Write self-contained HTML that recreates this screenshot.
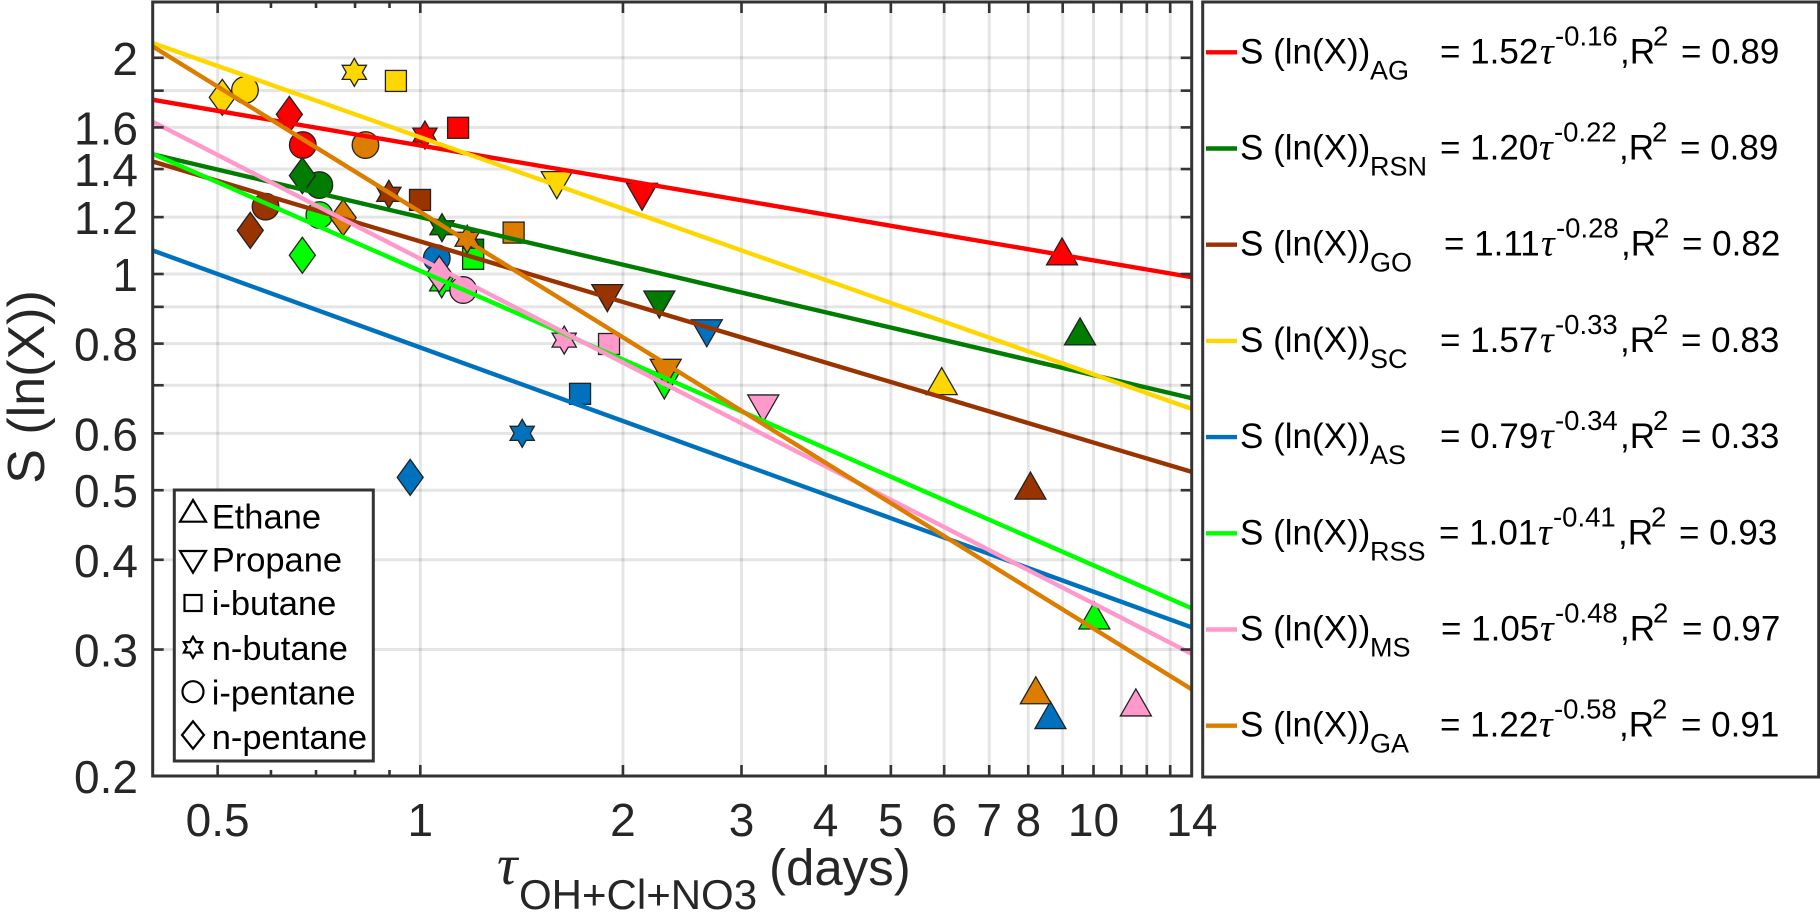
<!DOCTYPE html>
<html lang="en">
<head>
<meta charset="utf-8">
<title>S (ln(X)) versus lifetime</title>
<style>
  html, body { margin: 0; padding: 0; background: #fff; }
  body { width: 1820px; height: 912px; overflow: hidden; }
  svg { display: block; font-family: "Liberation Sans", Arial, sans-serif; }
  .tick-label { font-size: 46px; fill: #262626; }
  .axis-title { font-size: 51px; fill: #262626; }
  .tau { font-family: "Liberation Serif", serif; font-style: italic; }
  .key-text { font-size: 34.5px; fill: #000; }
  .eq { font-size: 35px; fill: #000; }
  .eq-sub { font-size: 27px; fill: #000; }
  .eq-sup { font-size: 27.5px; fill: #000; }
  .eq-tau { font-family: "Liberation Serif", serif; font-style: italic; font-size: 38px; fill: #000; }
  .key-mark { fill: none; stroke: #000; stroke-width: 2.2; }
  .leg-line { stroke-width: 4.4; fill: none; }
</style>
</head>
<body>
<svg id="chart" xmlns="http://www.w3.org/2000/svg" width="1820" height="912" viewBox="0 0 1820 912">
  <rect x="0" y="0" width="1820" height="912" fill="#fff"/>
  <defs>
    <clipPath id="plot-clip"><rect x="152.7" y="2" width="1039" height="774"/></clipPath>
  </defs>
  <g id="grid"></g>
  <g id="markers"></g>
  <g id="fits" clip-path="url(#plot-clip)"></g>
  <rect x="152.7" y="2" width="1039" height="774" fill="none" stroke="#333" stroke-width="3"/>
  <g id="ticks"></g>

  <text class="axis-title" style="font-size:52px" transform="translate(44,387) rotate(-90)" text-anchor="middle">S (ln(X))</text>
  <g>
    <text class="axis-title tau" x="497" y="884" style="font-size:57px">τ</text>
    <text class="axis-title" x="519" y="909" style="font-size:42px">OH+Cl+NO3</text>
    <text class="axis-title" x="769" y="885">(days)</text>
  </g>

  <!-- hydrocarbon marker key -->
  <g>
    <rect x="174.3" y="490" width="199" height="271" fill="#fff" stroke="#333" stroke-width="3"/>
    <g>
      <path class="key-mark" d="M193 500 L206 521.7 L180 521.7 Z"/>
      <text class="key-text" x="211.7" y="528.3">Ethane</text>
    </g>
    <g>
      <path class="key-mark" d="M180 551 L206 551 L193 572.7 Z"/>
      <text class="key-text" x="211.7" y="571.7">Propane</text>
    </g>
    <g>
      <rect class="key-mark" x="184.5" y="595" width="17" height="16"/>
      <text class="key-text" x="211.7" y="615">i-butane</text>
    </g>
    <g>
      <path class="key-mark" d="M193 636.8 L196 642.1 L202.1 642.1 L199.1 647.3 L202.1 652.5 L196 652.5 L193 657.8 L190 652.5 L183.9 652.5 L186.9 647.3 L183.9 642.1 L190 642.1 Z"/>
      <text class="key-text" x="211.7" y="660">n-butane</text>
    </g>
    <g>
      <circle class="key-mark" cx="193" cy="691.7" r="10.5"/>
      <text class="key-text" x="211.7" y="704.5">i-pentane</text>
    </g>
    <g>
      <path class="key-mark" d="M193 721.3 L204 735 L193 748.7 L182 735 Z"/>
      <text class="key-text" x="211.7" y="749">n-pentane</text>
    </g>
  </g>

  <!-- equation legend panel -->
  <g>
    <rect x="1202.7" y="2" width="616" height="775" fill="#fff" stroke="#333" stroke-width="3"/>

    <g transform="translate(0,52.3)">
      <line class="leg-line" x1="1206" x2="1237" y1="0" y2="0" stroke="#ff0000"/>
      <text class="eq" x="1240" y="11">S (ln(X))</text><text class="eq-sub" x="1370" y="27">AG</text>
      <text class="eq" x="1440" y="11">= 1.52</text><text class="eq-tau" x="1540" y="11">τ</text>
      <text class="eq-sup" x="1555" y="-7">-0.16</text><text class="eq" x="1620" y="11">,R</text>
      <text class="eq-sup" x="1653" y="-7">2</text><text class="eq" x="1681" y="11">= 0.89</text>
    </g>
    <g transform="translate(0,148.5)">
      <line class="leg-line" x1="1206" x2="1237" y1="0" y2="0" stroke="#007c00"/>
      <text class="eq" x="1240" y="11">S (ln(X))</text><text class="eq-sub" x="1370" y="27">RSN</text>
      <text class="eq" x="1440" y="11">= 1.20</text><text class="eq-tau" x="1539" y="11">τ</text>
      <text class="eq-sup" x="1554" y="-7">-0.22</text><text class="eq" x="1619" y="11">,R</text>
      <text class="eq-sup" x="1652" y="-7">2</text><text class="eq" x="1680" y="11">= 0.89</text>
    </g>
    <g transform="translate(0,244.7)">
      <line class="leg-line" x1="1206" x2="1237" y1="0" y2="0" stroke="#993300"/>
      <text class="eq" x="1240" y="11">S (ln(X))</text><text class="eq-sub" x="1370" y="27">GO</text>
      <text class="eq" x="1444" y="11">= 1.11</text><text class="eq-tau" x="1541" y="11">τ</text>
      <text class="eq-sup" x="1556" y="-7">-0.28</text><text class="eq" x="1621" y="11">,R</text>
      <text class="eq-sup" x="1654" y="-7">2</text><text class="eq" x="1682" y="11">= 0.82</text>
    </g>
    <g transform="translate(0,340.9)">
      <line class="leg-line" x1="1206" x2="1237" y1="0" y2="0" stroke="#ffd700"/>
      <text class="eq" x="1240" y="11">S (ln(X))</text><text class="eq-sub" x="1370" y="27">SC</text>
      <text class="eq" x="1440" y="11">= 1.57</text><text class="eq-tau" x="1540" y="11">τ</text>
      <text class="eq-sup" x="1555" y="-7">-0.33</text><text class="eq" x="1620" y="11">,R</text>
      <text class="eq-sup" x="1653" y="-7">2</text><text class="eq" x="1681" y="11">= 0.83</text>
    </g>
    <g transform="translate(0,437.1)">
      <line class="leg-line" x1="1206" x2="1237" y1="0" y2="0" stroke="#0072bd"/>
      <text class="eq" x="1240" y="11">S (ln(X))</text><text class="eq-sub" x="1370" y="27">AS</text>
      <text class="eq" x="1440" y="11">= 0.79</text><text class="eq-tau" x="1540" y="11">τ</text>
      <text class="eq-sup" x="1555" y="-7">-0.34</text><text class="eq" x="1620" y="11">,R</text>
      <text class="eq-sup" x="1653" y="-7">2</text><text class="eq" x="1681" y="11">= 0.33</text>
    </g>
    <g transform="translate(0,533.3)">
      <line class="leg-line" x1="1206" x2="1237" y1="0" y2="0" stroke="#00ff00"/>
      <text class="eq" x="1240" y="11">S (ln(X))</text><text class="eq-sub" x="1370" y="27">RSS</text>
      <text class="eq" x="1439" y="11">= 1.01</text><text class="eq-tau" x="1538" y="11">τ</text>
      <text class="eq-sup" x="1553" y="-7">-0.41</text><text class="eq" x="1618" y="11">,R</text>
      <text class="eq-sup" x="1651" y="-7">2</text><text class="eq" x="1679" y="11">= 0.93</text>
    </g>
    <g transform="translate(0,629.5)">
      <line class="leg-line" x1="1206" x2="1237" y1="0" y2="0" stroke="#ff99cc"/>
      <text class="eq" x="1240" y="11">S (ln(X))</text><text class="eq-sub" x="1370" y="27">MS</text>
      <text class="eq" x="1441" y="11">= 1.05</text><text class="eq-tau" x="1540" y="11">τ</text>
      <text class="eq-sup" x="1555" y="-7">-0.48</text><text class="eq" x="1620" y="11">,R</text>
      <text class="eq-sup" x="1653" y="-7">2</text><text class="eq" x="1682" y="11">= 0.97</text>
    </g>
    <g transform="translate(0,725.7)">
      <line class="leg-line" x1="1206" x2="1237" y1="0" y2="0" stroke="#dd7d00"/>
      <text class="eq" x="1240" y="11">S (ln(X))</text><text class="eq-sub" x="1370" y="27">GA</text>
      <text class="eq" x="1440" y="11">= 1.22</text><text class="eq-tau" x="1539" y="11">τ</text>
      <text class="eq-sup" x="1554" y="-7">-0.58</text><text class="eq" x="1619" y="11">,R</text>
      <text class="eq-sup" x="1652" y="-7">2</text><text class="eq" x="1681" y="11">= 0.91</text>
    </g>
  </g>
</svg>

<script>
// Series order: AG, RSN, GO, SC, AS, RSS, MS, GA
const seriesKeys = ['ag', 'rsn', 'go', 'sc', 'as', 'rss', 'ms', 'ga'];
const fitCoefficient = [1.51, 1.20, 1.11, 1.55, 0.79, 1.01, 1.05, 1.22];
const fitExponent = [-0.16, -0.22, -0.28, -0.33, -0.34, -0.41, -0.48, -0.58];
const fitRange = [0.4, 14];

// Lifetimes (days) and S values per hydrocarbon, same series order
const tauEthane = [8.98, 9.55, 8.06, 5.95, 8.63, 10.03, 11.56, 8.21];
const valEthane = [1.070, 0.828, 0.505, 0.706, 0.242, 0.333, 0.252, 0.262];
const tauPropane = [2.135, 2.265, 1.896, 1.595, 2.664, 2.304, 3.232, 2.315];
const valPropane = [1.287, 0.911, 0.930, 1.336, 0.831, 0.703, 0.653, 0.732];
const tauIButane = [1.138, 1.198, 0.999, 0.920, 1.727, 1.198, 1.907, 1.376];
const valIButane = [1.598, 1.081, 1.268, 1.857, 0.681, 1.050, 0.799, 1.142];
const tauNButane = [1.016, 1.077, 0.898, 0.798, 1.417, 1.076, 1.636, 1.174];
const valNButane = [1.561, 1.160, 1.291, 1.909, 0.600, 0.969, 0.809, 1.118];
const tauIPentane = [0.669, 0.708, 0.589, 0.549, 1.058, 0.708, 1.158, 0.829];
const valIPentane = [1.512, 1.330, 1.241, 1.804, 1.052, 1.208, 0.950, 1.512];
const tauNPentane = [0.639, 0.668, 0.559, 0.508, 0.966, 0.668, 1.067, 0.768];
const valNPentane = [1.668, 1.371, 1.150, 1.762, 0.521, 1.062, 1.000, 1.198];

// Axis values
const xGridValues = [0.5, 1, 2, 3, 4, 5, 6, 7, 8, 9, 10, 11, 12, 13];
const xMinorValues = [0.6, 0.7, 0.8, 0.9];
const xTickLabels = [0.5, 1, 2, 3, 4, 5, 6, 7, 8, 10, 14];
const yGridValues = [0.3, 0.4, 0.5, 0.6, 0.7, 0.8, 0.9, 1, 1.2, 1.4, 1.6, 1.8, 2];
const yTickLabels = [0.2, 0.3, 0.4, 0.5, 0.6, 0.8, 1, 1.2, 1.4, 1.6, 2];

const seriesColors = ['#ff0000', '#007c00', '#993300', '#ffd700', '#0072bd', '#00ff00', '#ff99cc', '#dd7d00'];

const plotLeft = 152.7, plotRight = 1191.7, plotTop = 2, plotBottom = 776;
function xScale(tau) { return 420.3 + 673.2 * Math.log10(tau); }
function yScale(s) { return 274 - 718.2 * Math.log10(s); }

const NS = 'http://www.w3.org/2000/svg';
function make(tag, attrs, parent) {
  const el = document.createElementNS(NS, tag);
  for (const k in attrs) el.setAttribute(k, attrs[k]);
  parent.appendChild(el);
  return el;
}

function polar(cx, cy, r, deg) {
  const a = deg * Math.PI / 180;
  return (cx + r * Math.sin(a)).toFixed(2) + ' ' + (cy - r * Math.cos(a)).toFixed(2);
}

function drawMarker(shape, cx, cy, color, parent) {
  const style = { fill: color, stroke: '#222', 'stroke-width': 1.3, 'stroke-linejoin': 'miter' };
  let el;
  if (shape === 'ethane') {
    el = make('path', Object.assign({ d: 'M' + cx + ' ' + (cy - 15) + ' L' + (cx + 15.5) + ' ' + (cy + 12) + ' L' + (cx - 15.5) + ' ' + (cy + 12) + ' Z' }, style), parent);
  } else if (shape === 'propane') {
    el = make('path', Object.assign({ d: 'M' + (cx - 15.5) + ' ' + (cy - 12) + ' L' + (cx + 15.5) + ' ' + (cy - 12) + ' L' + cx + ' ' + (cy + 15) + ' Z' }, style), parent);
  } else if (shape === 'i-butane') {
    el = make('rect', Object.assign({ x: cx - 10.5, y: cy - 10.5, width: 21, height: 21 }, style), parent);
  } else if (shape === 'n-butane') {
    let d = '';
    for (let i = 0; i < 12; i++) {
      d += (i ? 'L' : 'M') + polar(cx, cy, i % 2 ? 8.1 : 14, i * 30) + ' ';
    }
    el = make('path', Object.assign({ d: d + 'Z' }, style), parent);
  } else if (shape === 'i-pentane') {
    el = make('circle', Object.assign({ cx: cx, cy: cy, r: 13.3 }, style), parent);
  } else {
    el = make('path', Object.assign({ d: 'M' + cx + ' ' + (cy - 18) + ' L' + (cx + 13) + ' ' + cy + ' L' + cx + ' ' + (cy + 18) + ' L' + (cx - 13) + ' ' + cy + ' Z' }, style), parent);
  }
  return el;
}

const gridGroup = document.getElementById('grid');
const markerGroup = document.getElementById('markers');
const fitGroup = document.getElementById('fits');
const tickGroup = document.getElementById('ticks');

// Grid
xGridValues.forEach(function (v) {
  const line = make('line', { x1: xScale(v), x2: xScale(v), y1: plotTop, y2: plotBottom, stroke: '#000', 'stroke-opacity': 0.1, 'stroke-width': 3 }, gridGroup);
  
  
});
yGridValues.forEach(function (v) {
  const line = make('line', { x1: plotLeft, x2: plotRight, y1: yScale(v), y2: yScale(v), stroke: '#000', 'stroke-opacity': 0.1, 'stroke-width': 3 }, gridGroup);
  
  
});

// Ticks
function xTick(v, len) {
  [[plotBottom, plotBottom - len], [plotTop, plotTop + len]].forEach(function (p) {
    const t = make('line', { x1: xScale(v), x2: xScale(v), y1: p[0], y2: p[1], stroke: '#333', 'stroke-width': 2.6 }, tickGroup);
    
    
  });
}
xGridValues.forEach(function (v) { xTick(v, 11); });
xMinorValues.forEach(function (v) { xTick(v, 6); });
yGridValues.forEach(function (v) {
  [[plotLeft, plotLeft + 11], [plotRight, plotRight - 11]].forEach(function (p) {
    const t = make('line', { x1: p[0], x2: p[1], y1: yScale(v), y2: yScale(v), stroke: '#333', 'stroke-width': 2.6 }, tickGroup);
    
    
  });
});
xTickLabels.forEach(function (v) {
  const t = make('text', { x: xScale(v), y: 836, 'text-anchor': 'middle', class: 'tick-label' }, tickGroup);
  t.textContent = String(v);
  
  
});
yTickLabels.forEach(function (v) {
  const t = make('text', { x: 138, y: yScale(v) + 17, 'text-anchor': 'end', class: 'tick-label' }, tickGroup);
  t.textContent = String(v);
  
  
});

// Markers, drawn series by series so later series overlap earlier ones
const speciesShapes = ['ethane', 'propane', 'i-butane', 'n-butane', 'i-pentane', 'n-pentane'];
const speciesTaus = [tauEthane, tauPropane, tauIButane, tauNButane, tauIPentane, tauNPentane];
const speciesVals = [valEthane, valPropane, valIButane, valNButane, valIPentane, valNPentane];
seriesKeys.forEach(function (key, s) {
  speciesShapes.forEach(function (shape, k) {
    const m = drawMarker(shape, xScale(speciesTaus[k][s]), yScale(speciesVals[k][s]), seriesColors[s], markerGroup);
    
    
  });
});

// Power-law fit lines
seriesKeys.forEach(function (key, s) {
  const pts = fitRange.map(function (t) {
    return xScale(t).toFixed(2) + ',' + yScale(fitCoefficient[s] * Math.pow(t, fitExponent[s])).toFixed(2);
  });
  const line = make('polyline', { points: pts.join(' '), fill: 'none', stroke: seriesColors[s], 'stroke-width': 4.4 }, fitGroup);
  
  
});
</script>
</body>
</html>
